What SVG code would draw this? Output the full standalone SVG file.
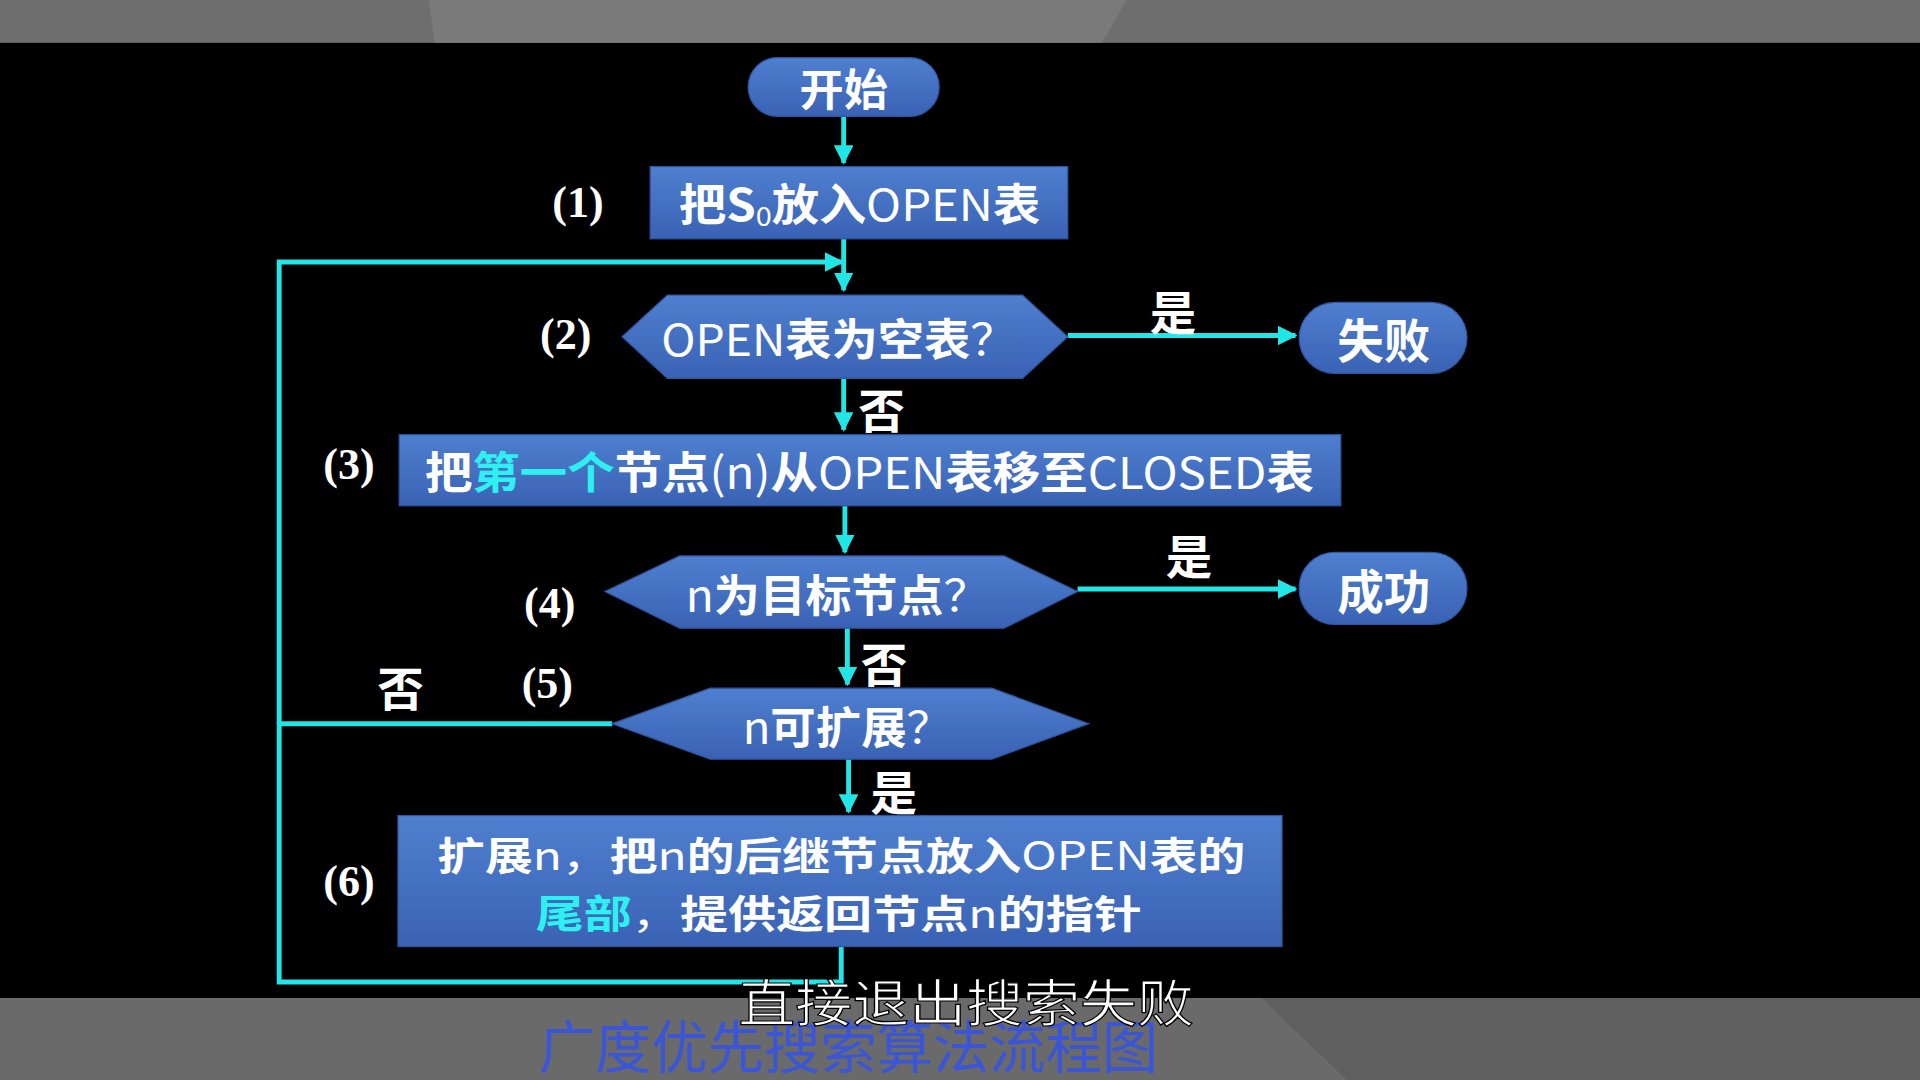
<svg xmlns="http://www.w3.org/2000/svg" width="1920" height="1080" viewBox="0 0 1920 1080">
<defs>
<linearGradient id="g" x1="0" y1="0" x2="0" y2="1"><stop offset="0" stop-color="#4f7fd0"/><stop offset="1" stop-color="#3a62b4"/></linearGradient>
<marker id="a" viewBox="0 0 10 10" refX="9" refY="5" markerWidth="4" markerHeight="4" orient="auto"><path d="M0,0L10,5L0,10z" fill="#22e5e5"/></marker>
<style>
.n{fill:url(#g);stroke:#2f55a0;stroke-width:1}
.t{font-family:"Noto Sans CJK SC","Liberation Sans",sans-serif;font-weight:bold;fill:#fff;text-anchor:middle;dominant-baseline:central}
.c{stroke:#22e5e5;stroke-width:4;fill:none}
.l{font-family:"Liberation Serif",serif;font-weight:bold;fill:#fff;font-size:36px;text-anchor:middle;dominant-baseline:central}
.h{fill:#2ff0f0}
</style>
</defs>
<rect width="1920" height="1080" fill="#000"/>
<g transform="scale(1.2245)">
<rect x="0" y="0" width="1568" height="35" fill="#6e6e6e"/>
<path d="M350,0L920,0L900,35L355,35z" fill="#7a7a7a"/>
<rect x="0" y="815" width="1568" height="67" fill="#6a6a6a"/>
<path d="M1030,815L1568,815L1568,882L1100,882z" fill="#5f5f5f"/>
<g id="connectors">
<path class="c" d="M689,95V133" marker-end="url(#a)"/>
<path class="c" d="M689,195V237" marker-end="url(#a)"/>
<path class="c" d="M872,274H1058" marker-end="url(#a)"/>
<path class="c" d="M689,309V351" marker-end="url(#a)"/>
<path class="c" d="M690,413V451" marker-end="url(#a)"/>
<path class="c" d="M880,481H1058" marker-end="url(#a)"/>
<path class="c" d="M692,513V559" marker-end="url(#a)"/>
<path class="c" d="M693,620V663" marker-end="url(#a)"/>
<path class="c" d="M500,591H228V802H687V773"/>
<path class="c" d="M228,591V214H688" marker-end="url(#a)"/>
</g>
<g id="start"><rect class="n" x="611" y="47" width="156" height="48" rx="24"/><text class="t" x="689" y="71" font-size="36">开始</text></g>
<g id="step1"><rect class="n" x="531" y="136" width="341" height="59"/><text class="t" x="702" y="165" font-size="36" textLength="295" lengthAdjust="spacingAndGlyphs">把S<tspan font-size="22" dy="10" font-weight="normal">0</tspan><tspan dy="-10">放入</tspan><tspan font-weight="normal">OPEN</tspan>表</text></g>
<g id="step2"><polygon class="n" points="508,275 545,241 835,241 872,275 835,309 545,309"/><text class="t" x="685" y="275" font-size="36" textLength="290" lengthAdjust="spacingAndGlyphs"><tspan font-weight="normal">OPEN</tspan>表为空表<tspan font-weight="normal">？</tspan></text></g>
<g id="fail"><rect class="n" x="1061" y="247" width="137" height="58" rx="29"/><text class="t" x="1130" y="276" font-size="38">失败</text></g>
<g id="step3"><rect class="n" x="326" y="355" width="769" height="58"/><text class="t" x="710" y="384" font-size="36" textLength="726" lengthAdjust="spacingAndGlyphs">把<tspan class="h">第一个</tspan>节点<tspan font-weight="normal">(n)</tspan>从<tspan font-weight="normal">OPEN</tspan>表移至<tspan font-weight="normal">CLOSED</tspan>表</text></g>
<g id="step4"><polygon class="n" points="494,483 555,454 820,454 880,483 820,513 555,513"/><text class="t" x="684" y="484" font-size="36" textLength="248" lengthAdjust="spacingAndGlyphs"><tspan font-weight="normal">n</tspan>为目标节点<tspan font-weight="normal">？</tspan></text></g>
<g id="success"><rect class="n" x="1061" y="451" width="137" height="59" rx="29"/><text class="t" x="1130" y="481" font-size="38">成功</text></g>
<g id="step5"><polygon class="n" points="500,591 580,562 810,562 889,591 810,620 580,620"/><text class="t" x="692" y="592" font-size="36" textLength="171" lengthAdjust="spacingAndGlyphs"><tspan font-weight="normal">n</tspan>可扩展<tspan font-weight="normal">？</tspan></text></g>
<g id="step6"><rect class="n" x="325" y="666" width="722" height="107"/><text class="t" x="687" y="697" font-size="32" textLength="660" lengthAdjust="spacingAndGlyphs">扩展<tspan font-weight="normal">n，</tspan>把<tspan font-weight="normal">n</tspan>的后继节点放入<tspan font-weight="normal">OPEN</tspan>表的</text><text class="t" x="685" y="744" font-size="32" textLength="495" lengthAdjust="spacingAndGlyphs"><tspan class="h">尾部</tspan><tspan font-weight="normal">，</tspan>提供返回节点<tspan font-weight="normal">n</tspan>的指针</text></g>
<g id="labels">
<text class="l" x="472" y="165">(1)</text>
<text class="l" x="462" y="273">(2)</text>
<text class="l" x="285" y="379">(3)</text>
<text class="l" x="449" y="493">(4)</text>
<text class="l" x="447" y="558">(5)</text>
<text class="l" x="285" y="720">(6)</text>
<text class="t" x="958" y="253" font-size="38">是</text>
<text class="t" x="720" y="333" font-size="38">否</text>
<text class="t" x="971" y="452" font-size="38">是</text>
<text class="t" x="722" y="540" font-size="38">否</text>
<text class="t" x="327" y="560" font-size="38">否</text>
<text class="t" x="730" y="645" font-size="38">是</text>
</g>
<text x="693" y="852" font-family="Noto Sans CJK SC,sans-serif" font-size="46" fill="#3a55d8" text-anchor="middle" dominant-baseline="central" textLength="506" lengthAdjust="spacingAndGlyphs">广度优先搜索算法流程图</text>
<text x="789" y="816" font-family="Noto Sans CJK SC,sans-serif" font-size="42" fill="#fff" stroke="#000" stroke-width="1" text-anchor="middle" dominant-baseline="central" textLength="372" lengthAdjust="spacingAndGlyphs">直接退出搜索失败</text>
</g>
</svg>
